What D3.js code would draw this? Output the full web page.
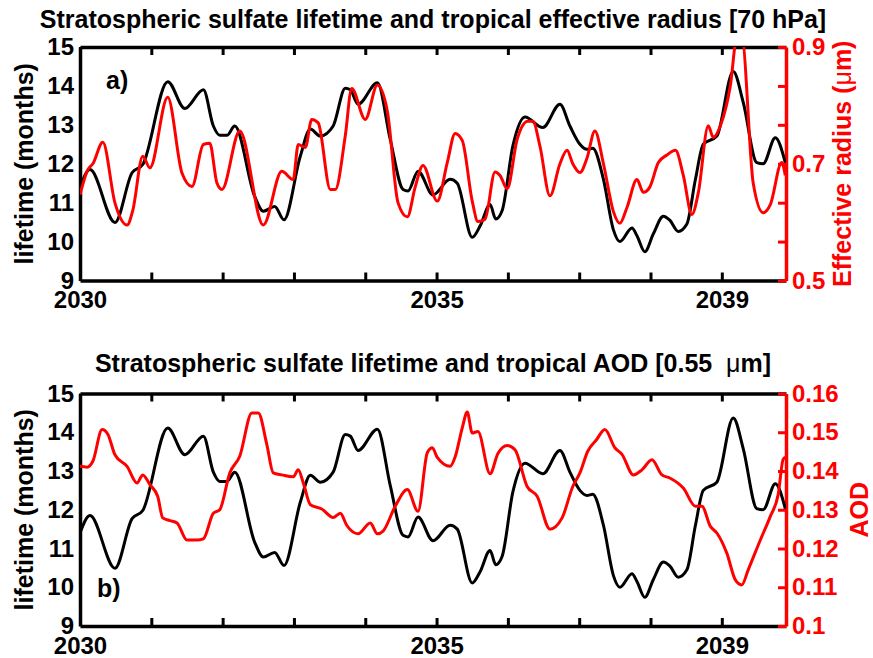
<!DOCTYPE html>
<html><head><meta charset="utf-8">
<script src="https://cdn.jsdelivr.net/npm/d3@7"></script>
<style>
body{margin:0;background:#fff}
svg{display:block}
text{font-family:"Liberation Sans",Arial,Helvetica,sans-serif;font-weight:bold}
</style>
</head><body>
<svg id="c" width="873" height="658"></svg>
<script>
// ---- data ----
const lifeYear=[2030.00,2030.14,2030.49,2030.73,2030.88,2031.23,2031.47,2031.73,2031.87,2031.96,2032.06,2032.17,2032.45,2032.57,2032.73,2032.86,2033.09,2033.23,2033.37,2033.55,2033.72,2033.79,2033.90,2034.17,2034.35,2034.53,2034.60,2034.74,2034.95,2035.19,2035.29,2035.50,2035.61,2035.75,2035.83,2035.92,2036.07,2036.24,2036.49,2036.73,2036.87,2037.01,2037.11,2037.19,2037.34,2037.48,2037.57,2037.74,2037.81,2037.92,2038.04,2038.18,2038.27,2038.39,2038.51,2038.63,2038.74,2038.93,2039.16,2039.30,2039.49,2039.58,2039.75,2039.89];
const lifeVal=[11.40,11.85,10.49,11.77,11.98,14.11,13.42,13.90,12.97,12.73,12.73,12.97,11.16,10.78,10.90,10.56,12.20,12.89,12.71,12.97,13.94,13.90,13.53,14.08,12.63,11.34,11.30,11.81,11.20,11.60,11.50,10.11,10.40,10.95,10.58,10.80,12.46,13.20,12.93,13.53,12.97,12.50,12.37,12.40,11.60,10.30,10.00,10.35,10.15,9.74,10.20,10.65,10.55,10.26,10.45,11.60,12.50,12.71,14.37,13.58,12.03,12.00,12.67,12.03];

const radiusYear=[2030.00,2030.11,2030.18,2030.32,2030.49,2030.66,2030.74,2030.88,2030.98,2031.23,2031.43,2031.57,2031.73,2031.82,2031.92,2031.99,2032.24,2032.57,2032.83,2032.99,2033.06,2033.16,2033.25,2033.34,2033.51,2033.58,2033.72,2033.81,2034.00,2034.17,2034.31,2034.46,2034.59,2034.70,2034.81,2035.01,2035.15,2035.26,2035.36,2035.50,2035.58,2035.68,2035.82,2035.89,2035.99,2036.13,2036.28,2036.35,2036.45,2036.59,2036.73,2036.83,2036.91,2037.01,2037.11,2037.22,2037.34,2037.48,2037.57,2037.67,2037.81,2037.90,2037.99,2038.11,2038.23,2038.35,2038.46,2038.58,2038.67,2038.81,2038.88,2038.98,2039.12,2039.21,2039.28,2039.44,2039.58,2039.68,2039.84,2039.89];
const radiusVal=[0.647,0.690,0.700,0.737,0.633,0.595,0.620,0.713,0.693,0.814,0.684,0.661,0.733,0.735,0.667,0.656,0.756,0.595,0.687,0.673,0.733,0.728,0.776,0.770,0.656,0.656,0.748,0.829,0.776,0.835,0.790,0.633,0.609,0.660,0.697,0.636,0.702,0.752,0.740,0.636,0.601,0.605,0.686,0.680,0.657,0.742,0.773,0.773,0.730,0.645,0.700,0.723,0.700,0.685,0.710,0.756,0.700,0.618,0.598,0.625,0.673,0.651,0.660,0.702,0.715,0.723,0.680,0.613,0.650,0.765,0.745,0.765,0.834,0.915,0.915,0.667,0.616,0.630,0.702,0.680];

const aodYear=[2030.00,2030.10,2030.18,2030.31,2030.39,2030.49,2030.66,2030.80,2030.88,2030.98,2031.09,2031.16,2031.26,2031.36,2031.50,2031.64,2031.73,2031.87,2031.96,2032.10,2032.24,2032.41,2032.50,2032.62,2032.71,2032.83,2032.99,2033.06,2033.13,2033.23,2033.39,2033.55,2033.65,2033.74,2033.90,2034.07,2034.17,2034.25,2034.42,2034.59,2034.74,2034.87,2034.94,2035.01,2035.19,2035.26,2035.36,2035.43,2035.50,2035.58,2035.75,2035.86,2035.99,2036.10,2036.27,2036.41,2036.59,2036.76,2036.91,2037.01,2037.12,2037.24,2037.36,2037.50,2037.60,2037.76,2037.88,2038.02,2038.16,2038.27,2038.46,2038.63,2038.72,2038.84,2038.93,2039.07,2039.19,2039.28,2039.37,2039.54,2039.68,2039.79,2039.86,2039.89];
const aodVal=[0.1412,0.1410,0.1425,0.1507,0.1495,0.1442,0.1412,0.1369,0.1390,0.1365,0.1334,0.1279,0.1272,0.1266,0.1222,0.1222,0.1225,0.1291,0.1300,0.1395,0.1438,0.1550,0.1550,0.1468,0.1395,0.1390,0.1385,0.1403,0.1370,0.1313,0.1302,0.1280,0.1291,0.1260,0.1238,0.1266,0.1238,0.1245,0.1309,0.1352,0.1296,0.1447,0.1460,0.1435,0.1412,0.1436,0.1511,0.1552,0.1498,0.1502,0.1393,0.1445,0.1466,0.1455,0.1360,0.1335,0.1250,0.1279,0.1360,0.1395,0.1451,0.1480,0.1507,0.1460,0.1443,0.1390,0.1403,0.1429,0.1390,0.1382,0.1356,0.1309,0.1309,0.1257,0.1240,0.1188,0.1119,0.1106,0.1145,0.1222,0.1283,0.1339,0.1430,0.1435];

const xTicks=[2030,2031,2032,2033,2034,2035,2036,2037,2038,2039];
const xLabels=[2030,2035,2039];
const lifeTicks=[9,10,11,12,13,14,15];
const radiusTicks=[0.5,0.5667,0.6333,0.7,0.7667,0.8333,0.9];
const radiusLabels=["0.5","0.7","0.9"];
const aodTicks=[0.10,0.11,0.12,0.13,0.14,0.15,0.16];

const titles=["Stratospheric sulfate lifetime and tropical effective radius [70 hPa]",
              "Stratospheric sulfate lifetime and tropical AOD [0.55\u00a0\u00a0"];

// ---- drawing ----
const svg=d3.select("#c");
const RED="#ff0000";
const X0=80, X1=786;
const x=d3.scaleLinear().domain([2030,2039.9]).range([X0,X1]);

function styleAxis(g,color,fs){
  g.attr("font-family",null).attr("font-size",null);
  g.select(".domain").attr("stroke",color).attr("stroke-width",3.5);
  g.selectAll(".tick line").attr("stroke",color).attr("stroke-width",3);
  g.selectAll(".tick text").attr("fill",color).style("font-size",fs+"px");
}

function panel(cfg){
  const {top,bottom,rDomain,rTicks,rFormat,rVals,rYears,id} = cfg;
  const yL=d3.scaleLinear().domain([9,15]).range([bottom,top]);
  const yR=d3.scaleLinear().domain(rDomain).range([bottom,top]);
  const g=svg.append("g");

  g.append("clipPath").attr("id","clip"+id).append("rect")
    .attr("x",X0).attr("y",top).attr("width",X1-X0).attr("height",bottom-top);

  // axes
  const gb=g.append("g").attr("transform",`translate(0,${bottom})`)
    .call(d3.axisBottom(x).tickValues(xTicks).tickSize(-8).tickSizeOuter(0).tickPadding(10.5)
      .tickFormat(d=>xLabels.includes(d)?String(d):""));
  styleAxis(gb,"#000",24);
  const gt=g.append("g").attr("transform",`translate(0,${top})`)
    .call(d3.axisTop(x).tickValues(xTicks).tickSize(-8).tickSizeOuter(0).tickFormat(""));
  styleAxis(gt,"#000",24);
  const gl=g.append("g").attr("transform",`translate(${X0},0)`)
    .call(d3.axisLeft(yL).tickValues(lifeTicks).tickSize(0).tickSizeOuter(0).tickPadding(6).tickFormat(d3.format("d")));
  styleAxis(gl,"#000",24);
  const gr=g.append("g").attr("transform",`translate(${X1},0)`)
    .call(d3.axisRight(yR).tickValues(rTicks).tickSize(-8).tickSizeOuter(0).tickPadding(6).tickFormat(rFormat));
  styleAxis(gr,RED,24);

  // lines
  const lineL=d3.line().x((d,i)=>x(lifeYear[i])).y(d=>yL(d)).curve(d3.curveMonotoneX);
  const lineR=d3.line().x((d,i)=>x(rYears[i])).y(d=>yR(d)).curve(d3.curveMonotoneX);
  const lg=g.append("g").attr("clip-path",`url(#clip${id})`);
  lg.append("path").attr("d",lineL(lifeVal)).attr("fill","none").attr("stroke","#000").attr("stroke-width",3).attr("stroke-linejoin","round");
  lg.append("path").attr("d",lineR(rVals)).attr("fill","none").attr("stroke",RED).attr("stroke-width",3).attr("stroke-linejoin","round");

  // left label
  const cy=(top+bottom)/2;
  g.append("text").attr("transform",`translate(33,${cy}) rotate(-90)`).attr("text-anchor","middle")
    .style("font-size","25px").text("lifetime (months)");
  return {g,cy};
}

const fmtR=d=>{const s=(+d.toFixed(1)).toString(); return (Math.abs(d-+d.toFixed(1))<1e-3 && radiusLabels.includes(s))?s:"";};
const p1=panel({id:1,top:47,bottom:280.5,rDomain:[0.5,0.9],rTicks:radiusTicks,rFormat:fmtR,rVals:radiusVal,rYears:radiusYear});
const p2=panel({id:2,top:393.5,bottom:626,rDomain:[0.1,0.16],rTicks:aodTicks,rFormat:d=>String(+d.toFixed(2)),rVals:aodVal,rYears:aodYear});

// titles
const cx=(X0+X1)/2;
svg.append("text").attr("x",cx).attr("y",28).attr("text-anchor","middle").style("font-size","25px").text(titles[0]);
const t2=svg.append("text").attr("x",cx).attr("y",372).attr("text-anchor","middle").style("font-size","25px");
t2.append("tspan").text(titles[1]);
t2.append("tspan").style("font-weight","normal").text("\u03bc");
t2.append("tspan").text("m]");

// right labels
const r1=p1.g.append("text").attr("transform",`translate(851,${p1.cy}) rotate(-90)`).attr("text-anchor","middle")
  .attr("fill",RED).style("font-size","25px");
r1.append("tspan").text("Effective radius (");
r1.append("tspan").style("font-weight","normal").text("\u03bc");
r1.append("tspan").text("m)");
p2.g.append("text").attr("transform",`translate(868,${p2.cy}) rotate(-90)`).attr("text-anchor","middle")
  .attr("fill",RED).style("font-size","25px").text("AOD");

// panel letters
svg.append("text").attr("x",106).attr("y",89).style("font-size","25px").text("a)");
svg.append("text").attr("x",97).attr("y",597).style("font-size","25px").text("b)");
</script>
</body></html>
